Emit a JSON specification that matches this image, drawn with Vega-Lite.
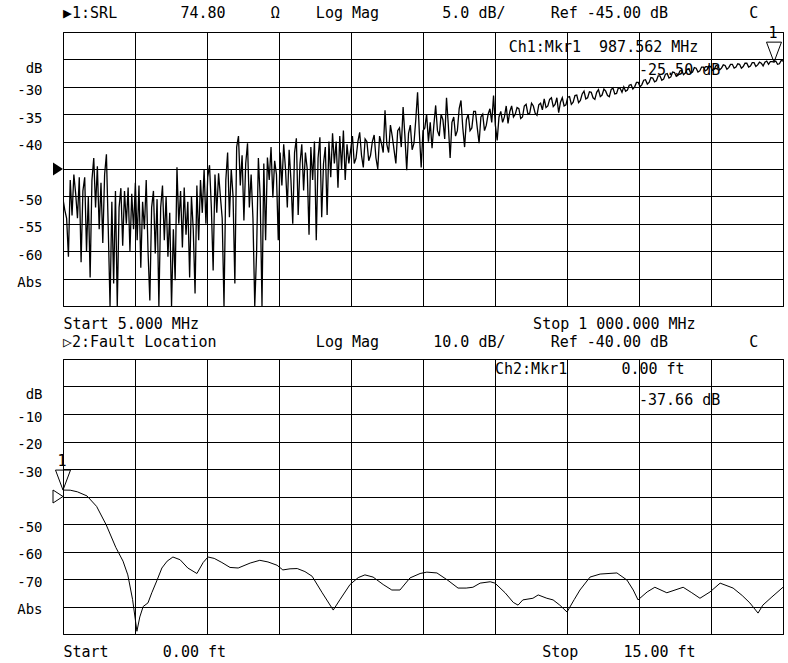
{
  "$schema": "https://vega.github.io/schema/vega-lite/v6.json",
  "background": "white",
  "padding": {"left": 16, "top": 5, "right": 0, "bottom": 0},
  "bounds": "flush",
  "spacing": 53,
  "config": {
    "view": {"stroke": "black", "strokeWidth": 1},
    "font": "DejaVu Sans Mono",
    "axis": {"grid": true, "gridColor": "black", "gridOpacity": 1, "gridWidth": 1, "ticks": false, "domain": false, "labelFont": "DejaVu Sans Mono", "labelFontSize": 14, "labelColor": "black", "titleFont": "DejaVu Sans Mono", "titleFontSize": 15, "titleFontWeight": "normal", "titleColor": "black", "labelOverlap": false, "labelBound": false, "labelFlush": false},
    "title": {"font": "DejaVu Sans Mono", "fontSize": 15, "fontWeight": "normal", "anchor": "start", "color": "black", "frame": "group", "baseline": "alphabetic", "offset": 5},
    "text": {"font": "DejaVu Sans Mono", "fontSize": 15, "color": "black"}
  },
  "datasets": {
    "srl": [
      {"f":5,"db":-50.5},{"f":7.5,"db":-52.5},{"f":10,"db":-54.0},{"f":12.5,"db":-61.0},{"f":15,"db":-47.0},{"f":17.5,"db":-53.5},{"f":20,"db":-46.0},{"f":22.5,"db":-49.5},{"f":25,"db":-54.0},{"f":27.5,"db":-46.5},
      {"f":30,"db":-62.0},{"f":32.5,"db":-49.0},{"f":35,"db":-46.5},{"f":37.5,"db":-60.0},{"f":40,"db":-50.0},{"f":42.5,"db":-64.8},{"f":45,"db":-47.0},{"f":47.5,"db":-43.0},{"f":50,"db":-52.0},{"f":52.5,"db":-44.5},
      {"f":55,"db":-56.0},{"f":57.5,"db":-47.5},{"f":60,"db":-58.5},{"f":62.5,"db":-46.0},{"f":65,"db":-42.3},{"f":67.5,"db":-55.6},{"f":70,"db":-70.0},{"f":72.5,"db":-51.0},{"f":75,"db":-65.9},{"f":77.5,"db":-49.0},
      {"f":80,"db":-70.0},{"f":82.5,"db":-52.0},{"f":85,"db":-48.5},{"f":87.5,"db":-59.0},{"f":90,"db":-49.0},{"f":92.5,"db":-55.0},{"f":95,"db":-48.4},{"f":97.5,"db":-60.0},{"f":100,"db":-49.5},{"f":102.5,"db":-56.0},
      {"f":105,"db":-47.5},{"f":107.5,"db":-58.0},{"f":110,"db":-48.0},{"f":112.5,"db":-63.0},{"f":115,"db":-51.0},{"f":117.5,"db":-56.0},{"f":120,"db":-47.0},{"f":122.5,"db":-60.0},{"f":125,"db":-69.0},{"f":127.5,"db":-52.0},
      {"f":130,"db":-49.0},{"f":132.5,"db":-60.4},{"f":135,"db":-50.5},{"f":137.5,"db":-70.0},{"f":140,"db":-52.0},{"f":142.5,"db":-48.0},{"f":145,"db":-58.0},{"f":147.5,"db":-50.0},{"f":150,"db":-61.0},{"f":152.5,"db":-53.0},
      {"f":155,"db":-70.0},{"f":157.5,"db":-56.0},{"f":160,"db":-65.3},{"f":162.5,"db":-44.7},{"f":165,"db":-55.0},{"f":167.5,"db":-49.0},{"f":170,"db":-59.3},{"f":172.5,"db":-48.4},{"f":175,"db":-57.0},{"f":177.5,"db":-51.0},
      {"f":180,"db":-64.8},{"f":182.5,"db":-50.0},{"f":185,"db":-56.0},{"f":187.5,"db":-67.7},{"f":190,"db":-48.0},{"f":192.5,"db":-58.0},{"f":195,"db":-47.0},{"f":197.5,"db":-53.0},{"f":200,"db":-45.0},{"f":202.5,"db":-55.0},
      {"f":205,"db":-46.5},{"f":207.5,"db":-44.3},{"f":210,"db":-52.0},{"f":212.5,"db":-63.5},{"f":215,"db":-46.0},{"f":217.5,"db":-53.0},{"f":220,"db":-45.8},{"f":222.5,"db":-50.0},{"f":225,"db":-54.0},{"f":227.5,"db":-70.0},
      {"f":230,"db":-47.0},{"f":232.5,"db":-42.0},{"f":235,"db":-53.8},{"f":237.5,"db":-45.0},{"f":240,"db":-50.0},{"f":242.5,"db":-65.9},{"f":245,"db":-41.0},{"f":247.5,"db":-39.0},{"f":250,"db":-48.0},{"f":252.5,"db":-42.5},
      {"f":255,"db":-54.4},{"f":257.5,"db":-44.0},{"f":260,"db":-40.3},{"f":262.5,"db":-52.0},{"f":265,"db":-46.0},{"f":267.5,"db":-54.0},{"f":270,"db":-70.0},{"f":272.5,"db":-60.4},{"f":275,"db":-43.0},{"f":277.5,"db":-50.0},
      {"f":280,"db":-70.0},{"f":282.5,"db":-44.0},{"f":285,"db":-58.0},{"f":287.5,"db":-42.9},{"f":290,"db":-47.0},{"f":292.5,"db":-41.0},{"f":295,"db":-50.2},{"f":297.5,"db":-43.5},{"f":300,"db":-46.0},{"f":302.5,"db":-58.0},
      {"f":305,"db":-42.0},{"f":307.5,"db":-48.0},{"f":310,"db":-40.5},{"f":312.5,"db":-45.0},{"f":315,"db":-52.0},{"f":317.5,"db":-41.5},{"f":320,"db":-47.0},{"f":322.5,"db":-55.0},{"f":325,"db":-42.0},{"f":327.5,"db":-39.4},
      {"f":330,"db":-53.4},{"f":332.5,"db":-44.0},{"f":335,"db":-40.5},{"f":337.5,"db":-48.9},{"f":340,"db":-42.0},{"f":342.5,"db":-45.0},{"f":345,"db":-57.0},{"f":347.5,"db":-41.0},{"f":350,"db":-47.0},{"f":352.5,"db":-40.0},
      {"f":355,"db":-58.0},{"f":357.5,"db":-43.0},{"f":360,"db":-39.2},{"f":362.5,"db":-53.8},{"f":365,"db":-44.0},{"f":367.5,"db":-41.0},{"f":370,"db":-53.4},{"f":372.5,"db":-40.0},{"f":375,"db":-46.5},{"f":377.5,"db":-38.5},
      {"f":380,"db":-44.0},{"f":382.5,"db":-40.0},{"f":385,"db":-48.4},{"f":387.5,"db":-39.0},{"f":390,"db":-45.0},{"f":392.5,"db":-38.0},{"f":395,"db":-47.0},{"f":397.5,"db":-40.5},{"f":400,"db":-44.0},
      {"f":402.5,"db":-41.5},{"f":405,"db":-39.0},{"f":407.5,"db":-44.0},{"f":410,"db":-43.0},{"f":412.5,"db":-40.0},{"f":415,"db":-38.3},{"f":417.5,"db":-42.5},{"f":420,"db":-44.7},{"f":422.5,"db":-39.5},{"f":425,"db":-40.0},
      {"f":427.5,"db":-43.5},{"f":430,"db":-42.5},{"f":432.5,"db":-40.0},{"f":435,"db":-38.8},{"f":437.5,"db":-43.0},{"f":440,"db":-45.0},{"f":442.5,"db":-39.0},{"f":445,"db":-40.3},{"f":447.5,"db":-42.0},{"f":450,"db":-34.3},
      {"f":452.5,"db":-40.5},{"f":455,"db":-42.0},{"f":457.5,"db":-37.0},{"f":460,"db":-39.0},{"f":462.5,"db":-41.5},{"f":465,"db":-44.0},{"f":467.5,"db":-38.0},{"f":470,"db":-37.5},{"f":472.5,"db":-41.0},{"f":475,"db":-33.7},
      {"f":477.5,"db":-39.0},{"f":480,"db":-45.2},{"f":482.5,"db":-38.5},{"f":485,"db":-37.0},{"f":487.5,"db":-41.5},{"f":490,"db":-40.3},{"f":492.5,"db":-36.0},{"f":495,"db":-31.0},{"f":497.5,"db":-38.5},{"f":500,"db":-44.7},
      {"f":502.5,"db":-38.0},{"f":505,"db":-37.5},{"f":507.5,"db":-35.0},{"f":510,"db":-40.0},{"f":512.5,"db":-36.5},{"f":515,"db":-41.2},{"f":517.5,"db":-37.0},{"f":520,"db":-33.4},{"f":522.5,"db":-38.0},{"f":525,"db":-39.0},
      {"f":527.5,"db":-35.0},{"f":530,"db":-36.0},{"f":532.5,"db":-39.5},{"f":535,"db":-32.0},{"f":537.5,"db":-37.0},{"f":540,"db":-43.0},{"f":542.5,"db":-36.5},{"f":545,"db":-35.5},{"f":547.5,"db":-39.0},{"f":550,"db":-38.0},
      {"f":552.5,"db":-34.0},{"f":555,"db":-32.5},{"f":557.5,"db":-37.5},{"f":560,"db":-41.0},{"f":562.5,"db":-36.0},{"f":565,"db":-35.0},{"f":567.5,"db":-38.0},{"f":570,"db":-37.5},{"f":572.5,"db":-34.5},{"f":575,"db":-34.5},
      {"f":577.5,"db":-37.5},{"f":580,"db":-40.3},{"f":582.5,"db":-35.5},{"f":585,"db":-35.0},{"f":587.5,"db":-38.0},{"f":590,"db":-37.0},{"f":592.5,"db":-35.0},{"f":595,"db":-34.0},{"f":597.5,"db":-36.5},{"f":600,"db":-31.6},
      {"f":602.5,"db":-37.0},{"f":605,"db":-39.8},{"f":607.5,"db":-35.5},{"f":610,"db":-34.5},{"f":612.5,"db":-36.5},{"f":615,"db":-35.5},{"f":617.5,"db":-33.5},{"f":620,"db":-36.7},{"f":622.5,"db":-34.5},{"f":625,"db":-33.5},
      {"f":627.5,"db":-35.5},{"f":630,"db":-35.0},{"f":632.5,"db":-33.8},{"f":635,"db":-34.0},{"f":637.5,"db":-35.8},{"f":640,"db":-35.5},{"f":642.5,"db":-33.5},{"f":645,"db":-33.2},{"f":647.5,"db":-35.0},{"f":650,"db":-34.8},
      {"f":652.5,"db":-33.0},{"f":655,"db":-33.5},{"f":657.5,"db":-34.8},{"f":660,"db":-35.2},{"f":662.5,"db":-33.3},{"f":665,"db":-33.0},{"f":667.5,"db":-34.2},{"f":670,"db":-32.2},{"f":672.5,"db":-33.8},{"f":675,"db":-33.5},
      {"f":677.5,"db":-32.3},{"f":680,"db":-32.0},{"f":682.5,"db":-33.6},{"f":685,"db":-33.2},{"f":687.5,"db":-32.0},{"f":690,"db":-34.7},{"f":692.5,"db":-32.8},{"f":695,"db":-32.0},{"f":697.5,"db":-33.5},{"f":700,"db":-33.3},
      {"f":702.5,"db":-31.9},{"f":705,"db":-31.8},{"f":707.5,"db":-33.2},{"f":710,"db":-32.8},{"f":712.5,"db":-31.6},{"f":715,"db":-31.5},{"f":717.5,"db":-32.9},{"f":720,"db":-32.5},{"f":722.5,"db":-31.3},{"f":725,"db":-30.8},
      {"f":727.5,"db":-32.2},{"f":730,"db":-32.0},{"f":732.5,"db":-30.9},{"f":735,"db":-31.0},{"f":737.5,"db":-32.0},{"f":740,"db":-32.3},{"f":742.5,"db":-31.0},{"f":745,"db":-30.5},{"f":747.5,"db":-31.8},{"f":750,"db":-31.5},
      {"f":752.5,"db":-30.4},{"f":755,"db":-30.8},{"f":757.5,"db":-31.6},{"f":760,"db":-31.8},{"f":762.5,"db":-30.5},{"f":765,"db":-30.2},{"f":767.5,"db":-31.3},{"f":770,"db":-31.2},{"f":772.5,"db":-30.2},{"f":775,"db":-30.3},
      {"f":777.5,"db":-31.0},{"f":780,"db":-30.0},{"f":782.5,"db":-30.8},{"f":785,"db":-30.6},{"f":787.5,"db":-29.7},{"f":790,"db":-29.6},{"f":792.5,"db":-30.4},{"f":795,"db":-30.0},{"f":797.5,"db":-29.2},{"f":800,"db":-29.2},
      {"f":802.5,"db":-30.0},{"f":805,"db":-29.6},{"f":807.5,"db":-28.8},{"f":810,"db":-28.7},{"f":812.5,"db":-29.5},{"f":815,"db":-29.2},{"f":817.5,"db":-28.3},{"f":820,"db":-28.4},{"f":822.5,"db":-29.1},{"f":825,"db":-28.9},
      {"f":827.5,"db":-28.0},{"f":830,"db":-28.0},{"f":832.5,"db":-28.8},{"f":835,"db":-28.6},{"f":837.5,"db":-27.7},{"f":840,"db":-27.6},{"f":842.5,"db":-28.4},{"f":845,"db":-28.2},{"f":847.5,"db":-27.3},{"f":850,"db":-27.4},
      {"f":852.5,"db":-28.1},{"f":855,"db":-27.9},{"f":857.5,"db":-27.1},{"f":860,"db":-27.0},{"f":862.5,"db":-27.8},{"f":865,"db":-27.5},{"f":867.5,"db":-26.8},{"f":870,"db":-26.8},{"f":872.5,"db":-27.5},{"f":875,"db":-27.3},
      {"f":877.5,"db":-26.5},{"f":880,"db":-26.6},{"f":882.5,"db":-27.3},{"f":885,"db":-27.1},{"f":887.5,"db":-26.4},{"f":890,"db":-26.4},{"f":892.5,"db":-27.1},{"f":895,"db":-26.9},{"f":897.5,"db":-26.2},{"f":900,"db":-26.3},
      {"f":902.5,"db":-27.0},{"f":905,"db":-26.8},{"f":907.5,"db":-26.1},{"f":910,"db":-26.2},{"f":912.5,"db":-26.9},{"f":915,"db":-26.6},{"f":917.5,"db":-26.0},{"f":920,"db":-26.1},{"f":922.5,"db":-26.8},{"f":925,"db":-26.5},
      {"f":927.5,"db":-25.9},{"f":930,"db":-25.9},{"f":932.5,"db":-26.6},{"f":935,"db":-26.4},{"f":937.5,"db":-25.8},{"f":940,"db":-25.9},{"f":942.5,"db":-26.6},{"f":945,"db":-26.3},{"f":947.5,"db":-25.7},{"f":950,"db":-25.7},
      {"f":952.5,"db":-26.4},{"f":955,"db":-26.2},{"f":957.5,"db":-25.6},{"f":960,"db":-25.6},{"f":962.5,"db":-26.3},{"f":965,"db":-26.0},{"f":967.5,"db":-25.5},{"f":970,"db":-25.7},{"f":972.5,"db":-26.2},{"f":975,"db":-25.5},
      {"f":977.5,"db":-25.3},{"f":980,"db":-25.9},{"f":982.5,"db":-25.4},{"f":985,"db":-25.4},{"f":987.562,"db":-25.5},{"f":990,"db":-25.3},{"f":992.5,"db":-25.9},{"f":995,"db":-25.8},{"f":997.5,"db":-25.2},{"f":1000,"db":-25.3}
    ],
    "fault": [
      {"ft":0,"db":-37.66},{"ft":0.15,"db":-37.7},{"ft":0.3,"db":-38.3},{"ft":0.5,"db":-39.8},{"ft":0.7,"db":-43.6},{"ft":0.9,"db":-50.3},{"ft":1.1,"db":-58.5},{"ft":1.25,"db":-63.5},{"ft":1.35,"db":-68.5},{"ft":1.45,"db":-77.5},
      {"ft":1.54,"db":-89},{"ft":1.6,"db":-83.8},{"ft":1.67,"db":-80},{"ft":1.77,"db":-78.7},{"ft":1.85,"db":-75},{"ft":1.96,"db":-70.4},{"ft":2.06,"db":-66},{"ft":2.17,"db":-63.5},{"ft":2.29,"db":-62},{"ft":2.44,"db":-63},
      {"ft":2.6,"db":-66},{"ft":2.79,"db":-68},{"ft":2.92,"db":-64},{"ft":3.02,"db":-62},{"ft":3.15,"db":-62.5},{"ft":3.31,"db":-64},{"ft":3.48,"db":-65.8},{"ft":3.65,"db":-66},{"ft":3.9,"db":-64.2},{"ft":4.1,"db":-63.2},
      {"ft":4.27,"db":-63.8},{"ft":4.46,"db":-65},{"ft":4.58,"db":-66.7},{"ft":4.73,"db":-66.3},{"ft":4.88,"db":-66.2},{"ft":5.04,"db":-67.3},{"ft":5.19,"db":-69},{"ft":5.4,"db":-75},{"ft":5.63,"db":-81.3},{"ft":5.77,"db":-77.5},
      {"ft":5.98,"db":-72},{"ft":6.15,"db":-69.5},{"ft":6.29,"db":-68.5},{"ft":6.46,"db":-69.3},{"ft":6.67,"db":-72},{"ft":6.85,"db":-74},{"ft":7.02,"db":-74},{"ft":7.23,"db":-69.6},{"ft":7.44,"db":-68},{"ft":7.58,"db":-67.5},
      {"ft":7.79,"db":-67.8},{"ft":8.02,"db":-70.5},{"ft":8.23,"db":-73.3},{"ft":8.4,"db":-73.3},{"ft":8.54,"db":-73},{"ft":8.69,"db":-71.5},{"ft":8.9,"db":-71},{"ft":9.0,"db":-71.5},{"ft":9.21,"db":-75},{"ft":9.38,"db":-78.5},
      {"ft":9.48,"db":-79.5},{"ft":9.58,"db":-77.6},{"ft":9.79,"db":-77},{"ft":9.9,"db":-75.8},{"ft":10.08,"db":-77},{"ft":10.21,"db":-77.6},{"ft":10.35,"db":-79.5},{"ft":10.5,"db":-82},{"ft":10.65,"db":-77.5},{"ft":10.77,"db":-74},
      {"ft":10.98,"db":-69.3},{"ft":11.19,"db":-68.2},{"ft":11.54,"db":-67.8},{"ft":11.75,"db":-70.4},{"ft":11.88,"db":-74},{"ft":11.98,"db":-77.6},{"ft":12.17,"db":-74.7},{"ft":12.33,"db":-73},{"ft":12.58,"db":-75},{"ft":12.75,"db":-74},
      {"ft":12.92,"db":-73},{"ft":13.1,"db":-75},{"ft":13.27,"db":-77},{"ft":13.48,"db":-74.7},{"ft":13.69,"db":-71.5},{"ft":13.96,"db":-73.3},{"ft":14.15,"db":-76},{"ft":14.31,"db":-78.7},{"ft":14.48,"db":-82.4},{"ft":14.58,"db":-79.5},
      {"ft":14.77,"db":-76.5},{"ft":15.0,"db":-73}
    ]
  },
  "vconcat": [
    {
      "width": 720,
      "height": 274,
      "title": {"text": "▶1:SRL\u00a0\u00a0\u00a0\u00a0\u00a0\u00a0\u00a074.80\u00a0\u00a0\u00a0\u00a0\u00a0Ω\u00a0\u00a0\u00a0\u00a0Log\u00a0Mag\u00a0\u00a0\u00a0\u00a0\u00a0\u00a0\u00a05.0\u00a0dB/\u00a0\u00a0\u00a0\u00a0\u00a0Ref\u00a0-45.00\u00a0dB\u00a0\u00a0\u00a0\u00a0\u00a0\u00a0\u00a0\u00a0\u00a0C"},
      "layer": [
        {
          "data": {"name": "srl"},
          "mark": {"type": "line", "color": "black", "strokeWidth": 1.3, "clip": true},
          "encoding": {
            "x": {"field": "f", "type": "quantitative", "scale": {"domain": [5, 1000], "nice": false, "zero": false},
              "axis": {"values": [5, 104.5, 204, 303.5, 403, 502.5, 602, 701.5, 801, 900.5, 1000], "tickCount": 20, "labels": false,
                "title": "Start\u00a05.000\u00a0MHz\u00a0\u00a0\u00a0\u00a0\u00a0\u00a0\u00a0\u00a0\u00a0\u00a0\u00a0\u00a0\u00a0\u00a0\u00a0\u00a0\u00a0\u00a0\u00a0\u00a0\u00a0\u00a0\u00a0\u00a0\u00a0\u00a0\u00a0\u00a0\u00a0\u00a0\u00a0\u00a0\u00a0\u00a0\u00a0\u00a0\u00a0Stop\u00a01\u00a0000.000\u00a0MHz",
                "titleX": 0, "titleY": 22, "titleAlign": "left", "titleBaseline": "alphabetic"}},
            "y": {"field": "db", "type": "quantitative", "scale": {"domain": [-70, -20], "nice": false, "zero": false},
              "axis": {"values": [-20, -25, -30, -35, -40, -45, -50, -55, -60, -65, -70], "tickCount": 20, "title": null,
                "labelPadding": 21, "labelAlign": "right", "labelBaseline": "middle", "labelOverlap": false, "labelBound": false, "labelFlush": false,
                "labelExpr": "datum.value == -25 ? 'dB' : datum.value == -65 ? 'Abs' : (datum.value == -20 || datum.value == -45 || datum.value == -70) ? '' : '-' + (-datum.value)",
                "labelOffset": {"condition": {"test": "datum.value == -25", "value": 9}, "value": 4}}}
          }
        },
        {
          "data": {"values": [{}]},
          "mark": {"type": "point", "shape": "M-0.75,-2L0.75,-2L0,0Z", "size": 400, "filled": false, "stroke": "black", "strokeWidth": 1, "opacity": 1},
          "encoding": {"x": {"datum": 987.562, "type": "quantitative"}, "y": {"datum": -25.5, "type": "quantitative"}}
        },
        {
          "data": {"values": [{}]},
          "mark": {"type": "text", "text": "1", "align": "center", "baseline": "alphabetic", "dy": -24, "dx": -1},
          "encoding": {"x": {"datum": 987.562, "type": "quantitative"}, "y": {"datum": -25.5, "type": "quantitative"}}
        },
        {
          "data": {"values": [{}]},
          "mark": {"type": "point", "shape": "M-2,-1.3L0,0L-2,1.3Z", "size": 100, "filled": true, "color": "black", "opacity": 1},
          "encoding": {"x": {"datum": 5, "type": "quantitative"}, "y": {"datum": -45, "type": "quantitative"}}
        },
        {
          "data": {"values": [{}]},
          "mark": {"type": "text", "text": "Ch1:Mkr1\u00a0\u00a0987.562\u00a0MHz", "align": "left", "baseline": "middle"},
          "encoding": {"x": {"datum": 621, "type": "quantitative"}, "y": {"datum": -22.8, "type": "quantitative"}}
        },
        {
          "data": {"values": [{}]},
          "mark": {"type": "text", "text": "-25.50\u00a0dB", "align": "left", "baseline": "middle"},
          "encoding": {"x": {"datum": 801, "type": "quantitative"}, "y": {"datum": -27.0, "type": "quantitative"}}
        }
      ]
    },
    {
      "width": 720,
      "height": 275,
      "title": {"text": "▷2:Fault\u00a0Location\u00a0\u00a0\u00a0\u00a0\u00a0\u00a0\u00a0\u00a0\u00a0\u00a0\u00a0Log\u00a0Mag\u00a0\u00a0\u00a0\u00a0\u00a0\u00a010.0\u00a0dB/\u00a0\u00a0\u00a0\u00a0\u00a0Ref\u00a0-40.00\u00a0dB\u00a0\u00a0\u00a0\u00a0\u00a0\u00a0\u00a0\u00a0\u00a0C"},
      "layer": [
        {
          "data": {"name": "fault"},
          "mark": {"type": "line", "color": "black", "strokeWidth": 1, "clip": true},
          "encoding": {
            "x": {"field": "ft", "type": "quantitative", "scale": {"domain": [0, 15], "nice": false, "zero": false},
              "axis": {"values": [0, 1.5, 3, 4.5, 6, 7.5, 9, 10.5, 12, 13.5, 15], "tickCount": 20, "labels": false,
                "title": "Start\u00a0\u00a0\u00a0\u00a0\u00a0\u00a00.00\u00a0ft\u00a0\u00a0\u00a0\u00a0\u00a0\u00a0\u00a0\u00a0\u00a0\u00a0\u00a0\u00a0\u00a0\u00a0\u00a0\u00a0\u00a0\u00a0\u00a0\u00a0\u00a0\u00a0\u00a0\u00a0\u00a0\u00a0\u00a0\u00a0\u00a0\u00a0\u00a0\u00a0\u00a0\u00a0\u00a0Stop\u00a0\u00a0\u00a0\u00a0\u00a015.00\u00a0ft",
                "titleX": 0, "titleY": 22, "titleAlign": "left", "titleBaseline": "alphabetic"}},
            "y": {"field": "db", "type": "quantitative", "scale": {"domain": [-90, 10], "nice": false, "zero": false},
              "axis": {"values": [10, 0, -10, -20, -30, -40, -50, -60, -70, -80, -90], "tickCount": 20, "title": null,
                "labelPadding": 21, "labelAlign": "right", "labelBaseline": "middle", "labelOverlap": false, "labelBound": false, "labelFlush": false,
                "labelExpr": "datum.value == 0 ? 'dB' : datum.value == -80 ? 'Abs' : (datum.value == 10 || datum.value == -40 || datum.value == -90) ? '' : '-' + (-datum.value)",
                "labelOffset": {"condition": {"test": "datum.value == 0", "value": 8}, "value": 3}}}
          }
        },
        {
          "data": {"values": [{}]},
          "mark": {"type": "point", "shape": "M-0.75,-2L0.75,-2L0,0Z", "size": 400, "filled": false, "stroke": "black", "strokeWidth": 1, "opacity": 1},
          "encoding": {"x": {"datum": 0, "type": "quantitative"}, "y": {"datum": -37.66, "type": "quantitative"}}
        },
        {
          "data": {"values": [{}]},
          "mark": {"type": "text", "text": "1", "align": "center", "baseline": "alphabetic", "dy": -24, "dx": -1},
          "encoding": {"x": {"datum": 0, "type": "quantitative"}, "y": {"datum": -37.66, "type": "quantitative"}}
        },
        {
          "data": {"values": [{}]},
          "mark": {"type": "point", "shape": "M-2,-1.3L0,0L-2,1.3Z", "size": 100, "filled": false, "stroke": "black", "strokeWidth": 1, "opacity": 1},
          "encoding": {"x": {"datum": 0, "type": "quantitative"}, "y": {"datum": -40, "type": "quantitative"}}
        },
        {
          "data": {"values": [{}]},
          "mark": {"type": "text", "text": "Ch2:Mkr1\u00a0\u00a0\u00a0\u00a0\u00a0\u00a00.00\u00a0ft", "align": "left", "baseline": "middle"},
          "encoding": {"x": {"datum": 9.0, "type": "quantitative"}, "y": {"datum": 6.2, "type": "quantitative"}}
        },
        {
          "data": {"values": [{}]},
          "mark": {"type": "text", "text": "-37.66\u00a0dB", "align": "left", "baseline": "middle"},
          "encoding": {"x": {"datum": 12, "type": "quantitative"}, "y": {"datum": -4.9, "type": "quantitative"}}
        }
      ]
    }
  ]
}
